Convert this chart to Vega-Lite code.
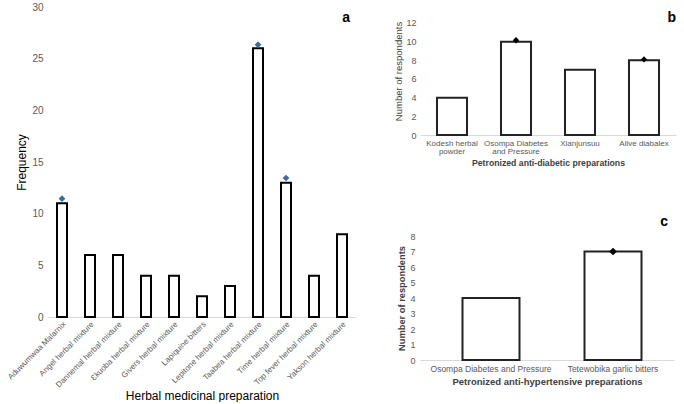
{
  "$schema": "https://vega.github.io/schema/vega-lite/v6.json",
  "padding": {"left": 6, "top": 2, "right": 2, "bottom": 0},
  "background": "white",
  "config": {
    "font": "Liberation Sans",
    "view": {"stroke": null},
    "axis": {"labelColor": "#595959", "labelFont": "Liberation Sans", "titleFont": "Liberation Sans", "ticks": false, "grid": false, "labelOverlap": false},
    "title": {"font": "Liberation Sans"}
  },
  "datasets": {
    "herbal": [
      {"prep": "Aduwumwaa Malarnix", "freq": 11, "err": 11.45},
      {"prep": "Angel herbal mixture", "freq": 6},
      {"prep": "Dannemal herbal mixture", "freq": 6},
      {"prep": "Ɛkuoba herbal mixture", "freq": 4},
      {"prep": "Givers herbal mixture", "freq": 4},
      {"prep": "Lapiquine bitters", "freq": 2},
      {"prep": "Lepitone herbal mixture", "freq": 3},
      {"prep": "Taabea herbal mixture", "freq": 26, "err": 26.35},
      {"prep": "Time herbal mixture", "freq": 13, "err": 13.45},
      {"prep": "Top fever herbal mixture", "freq": 4},
      {"prep": "Yakson herbal mixture", "freq": 8}
    ],
    "diabetic": [
      {"prep": "Kodesh herbal powder", "n": 4},
      {"prep": "Osompa Diabetes and Pressure", "n": 10, "err": 10.15},
      {"prep": "Xianjunsuu", "n": 7},
      {"prep": "Alive diabalex", "n": 8, "err": 8.1}
    ],
    "hyper": [
      {"prep": "Osompa Diabetes and Pressure", "n": 4},
      {"prep": "Tetewobika garlic bitters", "n": 7, "err": 7.0}
    ]
  },
  "hconcat": [
    {
      "width": 308,
      "height": 310,
      "title": {"text": "a", "anchor": "end", "frame": "group", "fontSize": 14, "fontWeight": "bold", "color": "#000000", "offset": -23, "dx": -6},
      "data": {"name": "herbal"},
      "layer": [
        {
          "mark": {"type": "bar", "size": 10, "fill": "white", "stroke": "black", "strokeWidth": 2},
          "encoding": {
            "x": {"field": "prep", "type": "nominal", "sort": null, "scale": {"paddingInner": 0, "paddingOuter": 0},
              "axis": {"labelAngle": -45, "labelFontSize": 8, "domainColor": "#d9d9d9", "labelPadding": 3, "title": "Herbal medicinal preparation", "titleFontSize": 12, "titleFontWeight": "normal", "titleColor": "#000000", "titlePadding": 2}},
            "y": {"field": "freq", "type": "quantitative", "scale": {"domain": [0, 30]},
              "axis": {"values": [0, 5, 10, 15, 20, 25, 30], "tickCount": 20, "format": "d", "domain": false, "labelFontSize": 10, "labelPadding": 5, "title": "Frequency", "titleFontSize": 12, "titleFontWeight": "normal", "titleColor": "#000000", "titlePadding": 3}}
          }
        },
        {
          "mark": {"type": "point", "shape": "diamond", "filled": true, "size": 45, "color": "#3F6A9A", "opacity": 1},
          "transform": [{"filter": "isValid(datum.err)"}],
          "encoding": {
            "x": {"field": "prep", "type": "nominal", "sort": null},
            "y": {"field": "err", "type": "quantitative"}
          }
        }
      ]
    },
    {
      "vconcat": [
        {
          "width": 256,
          "height": 128,
          "title": {"text": "b", "anchor": "end", "frame": "group", "fontSize": 14, "fontWeight": "bold", "color": "#000000", "offset": -18, "dx": 0},
          "data": {"name": "diabetic"},
          "layer": [
            {
              "mark": {"type": "bar", "size": 30, "fill": "white", "stroke": "#222222", "strokeWidth": 2},
              "encoding": {
                "x": {"field": "prep", "type": "nominal", "sort": null, "scale": {"paddingInner": 0, "paddingOuter": 0},
                  "axis": {"labelAngle": 0, "labelFontSize": 8, "domainColor": "#d9d9d9", "labelPadding": 4, "labelLineHeight": 8,
                    "labelExpr": "datum.label == 'Kodesh herbal powder' ? ['Kodesh herbal', 'powder'] : datum.label == 'Osompa Diabetes and Pressure' ? ['Osompa Diabetes', 'and Pressure'] : datum.label",
                    "title": "Petronized anti-diabetic preparations", "titleFontSize": 8.7, "titleFontWeight": "bold", "titleColor": "#404040", "titlePadding": 3}},
                "y": {"field": "n", "type": "quantitative", "scale": {"domain": [0, 13.714], "nice": false},
                  "axis": {"values": [0, 2, 4, 6, 8, 10, 12], "tickCount": 20, "format": "d", "domain": false, "labelFontSize": 9, "labelPadding": 4, "title": "Number of respondents", "titleFontSize": 9.5, "titleFontWeight": "normal", "titleColor": "#404040", "titlePadding": 2}}
              }
            },
            {
              "mark": {"type": "point", "shape": "diamond", "filled": true, "size": 40, "color": "#000000", "opacity": 1},
              "transform": [{"filter": "isValid(datum.err)"}],
              "encoding": {
                "x": {"field": "prep", "type": "nominal", "sort": null},
                "y": {"field": "err", "type": "quantitative"}
              }
            }
          ]
        },
        {
          "width": 254,
          "height": 124,
          "title": {"text": "c", "anchor": "end", "frame": "group", "fontSize": 14, "fontWeight": "bold", "color": "#000000", "offset": 3, "dx": -6},
          "data": {"name": "hyper"},
          "layer": [
            {
              "mark": {"type": "bar", "size": 57, "fill": "white", "stroke": "#222222", "strokeWidth": 2},
              "encoding": {
                "x": {"field": "prep", "type": "nominal", "sort": null, "scale": {"paddingInner": 0, "paddingOuter": 0.041, "align": 1},
                  "axis": {"labelAngle": 0, "labelFontSize": 8.5, "domainColor": "#d9d9d9", "labelPadding": 4,
                    "title": "Petronized anti-hypertensive preparations", "titleFontSize": 9.5, "titleFontWeight": "bold", "titleColor": "#404040", "titlePadding": 4}},
                "y": {"field": "n", "type": "quantitative", "scale": {"domain": [0, 8]},
                  "axis": {"values": [0, 1, 2, 3, 4, 5, 6, 7, 8], "tickCount": 20, "format": "d", "domain": false, "labelFontSize": 9, "labelPadding": 5, "title": "Number of respondents", "titleFontSize": 9.3, "titleFontWeight": "bold", "titleColor": "#404040", "titlePadding": 3}}
              }
            },
            {
              "mark": {"type": "point", "shape": "diamond", "filled": true, "size": 60, "color": "#000000", "opacity": 1},
              "transform": [{"filter": "isValid(datum.err)"}],
              "encoding": {
                "x": {"field": "prep", "type": "nominal", "sort": null},
                "y": {"field": "err", "type": "quantitative"}
              }
            }
          ]
        }
      ],
      "spacing": 48
    }
  ],
  "spacing": 37
}
